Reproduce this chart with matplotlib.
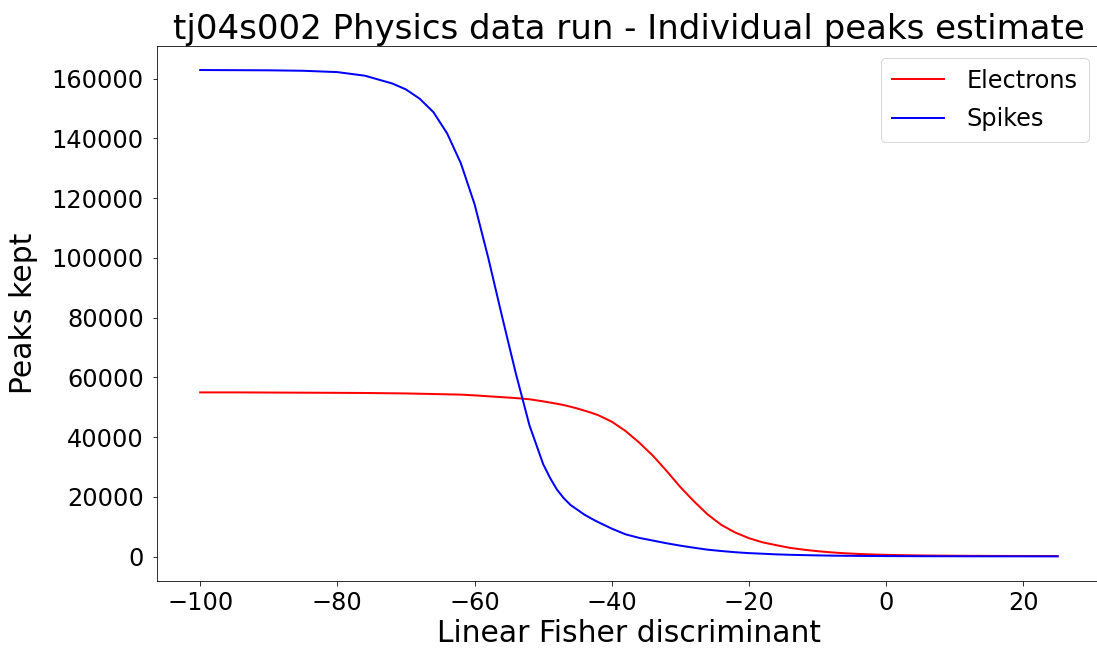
import matplotlib
matplotlib.use('Agg')
import matplotlib.pyplot as plt

# Data
x_vals = [-100, -95, -90, -85, -80, -76, -72, -70, -68, -66, -64, -62, -60, -58,
          -56, -54, -52, -50, -49, -48, -47, -46, -45, -44, -43, -42, -40, -38,
          -36, -34, -32, -30, -28, -26, -24, -22, -20, -18, -16, -14, -12, -10,
          -8, -6, -4, -2, 0, 5, 10, 15, 20, 25]

electrons = [55000, 55000, 54950, 54900, 54850, 54800, 54700, 54650, 54550, 54450,
             54350, 54250, 54000, 53700, 53400, 53100, 52700, 52000, 51600, 51200,
             50750, 50200, 49600, 48900, 48200, 47400, 45200, 42100, 38200, 33800,
             28700, 23300, 18500, 14100, 10600, 8100, 6200, 4800, 3850, 2950, 2350,
             1850, 1450, 1150, 920, 760, 620, 420, 320, 270, 240, 220]

spikes = [162900, 162850, 162800, 162650, 162200, 161000, 158400, 156400, 153300,
          148800, 141700, 131700, 118000, 100000, 80500, 61500, 44000, 31000, 26400,
          22500, 19600, 17300, 15700, 14100, 12800, 11600, 9400, 7500, 6300, 5400,
          4500, 3700, 3000, 2350, 1900, 1500, 1200, 1000, 780, 640, 530, 440, 360,
          310, 270, 240, 210, 170, 150, 130, 120, 110]

fig = plt.figure(figsize=(1097 / 72, 652 / 72), dpi=72)
ax = fig.add_axes([157.3 / 1097, 71.3 / 652, 943.2 / 1097, 535.0 / 652])

ax.plot(x_vals, electrons, color='red', linewidth=2, label='Electrons')
ax.plot(x_vals, spikes, color='blue', linewidth=2, label='Spikes')

ax.set_title('tj04s002 Physics data run - Individual peaks estimate', fontsize=34)
ax.set_xlabel('Linear Fisher discriminant', fontsize=29.8)
ax.set_ylabel('Peaks kept', fontsize=29.8, labelpad=14)
ax.tick_params(labelsize=24, length=4.5)
ax.tick_params(axis='x', pad=6)
ax.tick_params(axis='y', pad=9)
ax.legend(loc='upper right', fontsize=24, handlelength=2.2, handletextpad=0.93,
          labelspacing=0.62, borderpad=0.45)

fig.savefig('out.png', dpi=72)
